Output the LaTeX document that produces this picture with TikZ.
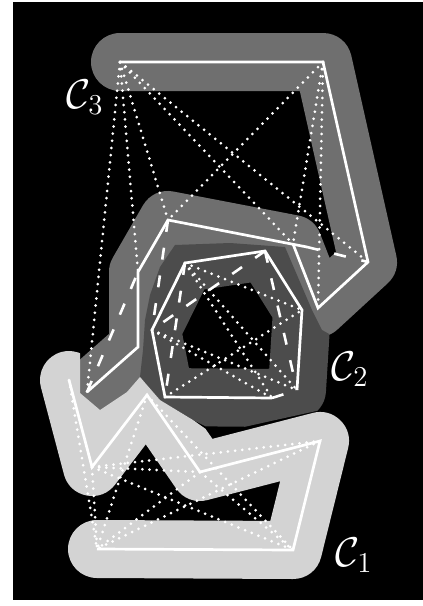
\documentclass[tikz,border=0pt]{standalone}
\usepackage{xcolor}
\definecolor{tubelight}{RGB}{211,211,211}
\definecolor{tubemid}{RGB}{111,111,111}
\definecolor{tubedark}{RGB}{76,76,76}

\begin{document}
\begin{tikzpicture}[
  x=0.5pt, y=-0.5pt,
  tube/.style={line width=29pt, line cap=round, line join=round},
  curve/.style={white, line width=1.35pt, line join=miter},
  chord/.style={white, line width=1.5pt, line cap=round, dash pattern=on 0pt off 3.6pt},
  gap/.style={white, line width=1.3pt, dash pattern=on 6pt off 8pt},
  lbl/.style={white, font=\huge}
]
  \fill[white] (0,0) rectangle (423,606);
  \useasboundingbox (0,0) rectangle (423,606);
  \fill[black] (13,2) rectangle (423,600);

  % curve C3
  \coordinate (u1) at (120,62);
  \coordinate (u2) at (323,62);
  \coordinate (u3) at (368,262);
  \coordinate (u4) at (318,308);
  \coordinate (u5) at (293,244);
  \coordinate (u6) at (307,247);
  \coordinate (u7) at (168,220);
  \coordinate (u8) at (138,272);
  \coordinate (u9) at (138,347);
  \coordinate (u10) at (87,392);
  % curve C2
  \coordinate (v1) at (185,263);
  \coordinate (v2) at (265,251);
  \coordinate (v3) at (302,310);
  \coordinate (v4) at (297,390);
  \coordinate (v5) at (272,398);
  \coordinate (v6) at (165,397);
  \coordinate (v7) at (152,330);
  % curve C1
  \coordinate (w1) at (69,380);
  \coordinate (w2) at (92,467);
  \coordinate (w3) at (147,395);
  \coordinate (w4) at (200,472);
  \coordinate (w5) at (320,441);
  \coordinate (w6) at (293,550);
  \coordinate (w7) at (97,549);

  % tubes
  \draw[tube, tubemid] (u1) -- (u2) -- (u3) -- (u4) -- (u5) -- (u7) -- (u8) -- (u9) -- (u10);
  \begin{scope}
    \clip (140,377) -- (143,350) -- (145,320) -- (150,295) -- (160,267) -- (175,245)
      -- (230,243) -- (285,247) -- (312,310) -- (322,330) -- (340,340) -- (423,360)
      -- (423,402) -- (330,408) -- (262,423) -- (217,433) -- (207,427) -- (193,420)
      -- (160,400) -- cycle;
    \draw[tube, tubedark] (v1) -- (v2) -- (v3) -- (v4) -- (v5) -- (v6) -- (v7) -- cycle;
  \end{scope}
  \begin{scope}
    \clip (0,300) -- (80,300) -- (80,393) -- (100,410) -- (127,392) -- (140,377)
      -- (160,400) -- (193,420) -- (210,432) -- (262,423) -- (330,408) -- (423,395)
      -- (423,606) -- (0,606) -- cycle;
    \draw[tube, tubelight] (w1) -- (w2) -- (w3) -- (w4) -- (w5) -- (w6) -- (w7);
  \end{scope}

  % chords
  \draw[chord] (u1) -- (u10);
  \draw[chord] (u1) -- (u8);
  \draw[chord] (u1) -- (u7);
  \draw[chord] (u1) -- (u5);
  \draw[chord] (u1) -- (u3);
  \draw[chord] (u2) -- (u7);
  \draw[chord] (u2) -- (u5);
  \draw[chord] (u2) -- (u4);
  \draw[chord] (v1) -- (v3);
  \draw[chord] (v1) -- (v4);
  \draw[chord] (v1) -- (v5);
  \draw[chord] (v6) -- (v3);
  \draw[chord] (v7) -- (v4);
  \draw[chord] (v7) -- (v5);
  \draw[chord] (w1) -- (w7);
  \draw[chord] (w2) -- (w7);
  \draw[chord] (w3) -- (w7);
  \draw[chord] (w4) -- (w7);
  \draw[chord] (w5) -- (w7);
  \draw[chord] (w2) -- (w4);
  \draw[chord] (w2) -- (w5);
  \draw[chord] (w2) -- (w6);
  \draw[chord] (w3) -- (w6);
  \draw[chord] (w4) -- (w6);

  % dashed pieces
  \draw[gap] (u10) -- (u8);
  \draw[gap] (u7) -- (v7);
  \draw[gap] (v2) -- (v7);
  \draw[gap] (v1) -- (v6);
  \draw[gap] (v2) -- (v4);
  \draw[gap] (v5) -- (v4);
  \draw[gap] (u6) -- (u3);

  % curves
  \draw[curve] (u1) -- (u2) -- (u3) -- (u4) -- (u5);
  \draw[curve] (u6) -- (u7) -- (u8) -- (u9) -- (u10);
  \draw[curve] (v4) -- (v3) -- (v2) -- (v1) -- (v7) -- (v6) -- (v5);
  \draw[curve] (w1) -- (w2) -- (w3) -- (w4) -- (w5) -- (w6) -- (w7);

  \node[lbl] (lc3) at (85,97) {$\mathcal{C}_3$};
  \node[lbl] (lc2) at (350,369) {$\mathcal{C}_2$};
  \node[lbl] (lc1) at (354,555) {$\mathcal{C}_1$};
\end{tikzpicture}
\end{document}
